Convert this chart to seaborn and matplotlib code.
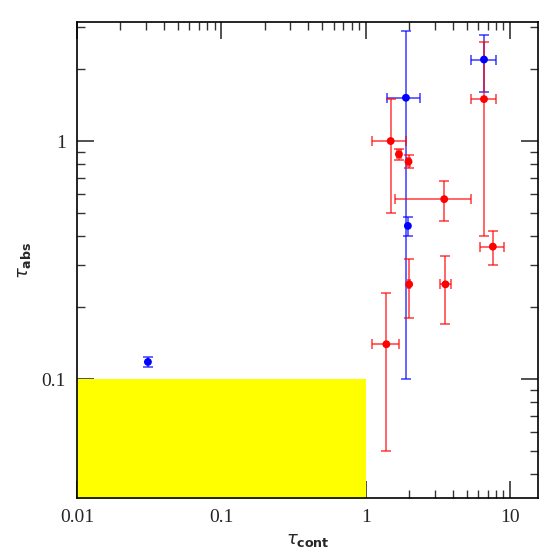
import matplotlib
matplotlib.use("Agg")
import matplotlib.pyplot as plt
import pandas as pd
import seaborn as sns
from matplotlib.ticker import LogLocator, FixedLocator, FixedFormatter, NullFormatter

# tau_cont, tau_abs with asymmetric errors (lower / upper ends of the bars)
tau_cont = [0.031, 1.9, 1.96, 6.6,
            1.49, 1.7, 1.98, 3.5, 6.6, 7.6, 2.0, 3.57, 1.39]
tau_cont_lo = [0.031, 1.40, 1.96, 5.36,
               1.10, 1.64, 1.94, 1.6, 5.36, 6.22, 1.96, 3.27, 1.10]
tau_cont_hi = [0.031, 2.37, 1.96, 8.0,
               1.90, 1.76, 2.02, 5.36, 8.0, 9.04, 2.04, 3.91, 1.69]
tau_abs = [0.118, 1.52, 0.44, 2.2,
           1.0, 0.88, 0.82, 0.57, 1.5, 0.36, 0.25, 0.25, 0.14]
tau_abs_lo = [0.112, 0.1, 0.40, 1.61,
              0.5, 0.83, 0.77, 0.46, 0.40, 0.30, 0.18, 0.17, 0.05]
tau_abs_hi = [0.124, 2.9, 0.48, 2.8,
              1.5, 0.93, 0.87, 0.68, 2.61, 0.42, 0.32, 0.33, 0.23]
group = ["blue"] * 4 + ["red"] * 9

df = pd.DataFrame({"tau_cont": tau_cont, "tau_abs": tau_abs,
                   "xlo": tau_cont_lo, "xhi": tau_cont_hi,
                   "ylo": tau_abs_lo, "yhi": tau_abs_hi, "group": group})

sns.set_style("ticks")
plt.rcParams["font.family"] = ["Liberation Serif", "DejaVu Serif"]
plt.rcParams["mathtext.fontset"] = "dejavusans"

fig = plt.figure(figsize=(5.58, 5.58), dpi=100)
ax = fig.add_axes([0.138, 0.1075, 0.826, 0.853])

# empty region
ax.fill_between([0.01, 1.0], 0.01, 0.1, color="#ffff00", lw=0, zorder=1)

for g, sub in df.groupby("group"):
    # points without x error get no horizontal bar
    has_x = sub.xhi > sub.xlo
    xerr = [sub.tau_cont - sub.xlo, sub.xhi - sub.tau_cont]
    yerr = [sub.tau_abs - sub.ylo, sub.yhi - sub.tau_abs]
    ax.errorbar(sub.tau_cont, sub.tau_abs, yerr=yerr, fmt="none",
                ecolor=g, alpha=0.7, elinewidth=1.2, capsize=3.5, capthick=1.2, zorder=3)
    ax.errorbar(sub.tau_cont[has_x], sub.tau_abs[has_x],
                xerr=[xerr[0][has_x], xerr[1][has_x]], fmt="none",
                ecolor=g, alpha=0.7, elinewidth=1.2, capsize=3.5, capthick=1.2, zorder=3)

sns.scatterplot(data=df, x="tau_cont", y="tau_abs", hue="group",
                palette={"blue": "blue", "red": "red"}, s=32, edgecolor="none",
                legend=False, ax=ax, zorder=4)

ax.set_xscale("log")
ax.set_yscale("log")
ax.set_xlim(0.01, 15.6)
ax.set_ylim(10 ** -1.5, 10 ** 0.5)

ax.xaxis.set_major_locator(FixedLocator([0.01, 0.1, 1, 10]))
ax.xaxis.set_major_formatter(FixedFormatter(["0.01", "0.1", "1", "10"]))
ax.yaxis.set_major_locator(FixedLocator([0.1, 1]))
ax.yaxis.set_major_formatter(FixedFormatter(["0.1", "1"]))
for axis in (ax.xaxis, ax.yaxis):
    axis.set_minor_locator(LogLocator(base=10, subs=range(2, 10), numticks=20))
    axis.set_minor_formatter(NullFormatter())

ax.tick_params(which="both", direction="in", top=True, right=True,
               labelsize=14, color="#333333", pad=8)
ax.tick_params(which="major", length=12, width=1.2)
ax.tick_params(which="minor", length=6, width=1.0)
for spine in ax.spines.values():
    spine.set_color("black")
    spine.set_linewidth(1.2)

ax.set_xlabel(r"$\tau_{\mathbf{cont}}$", fontsize=13, labelpad=4)
ax.set_ylabel(r"$\tau_{\mathbf{abs}}$", fontsize=13, labelpad=6)

fig.savefig("out.png", dpi=100)
